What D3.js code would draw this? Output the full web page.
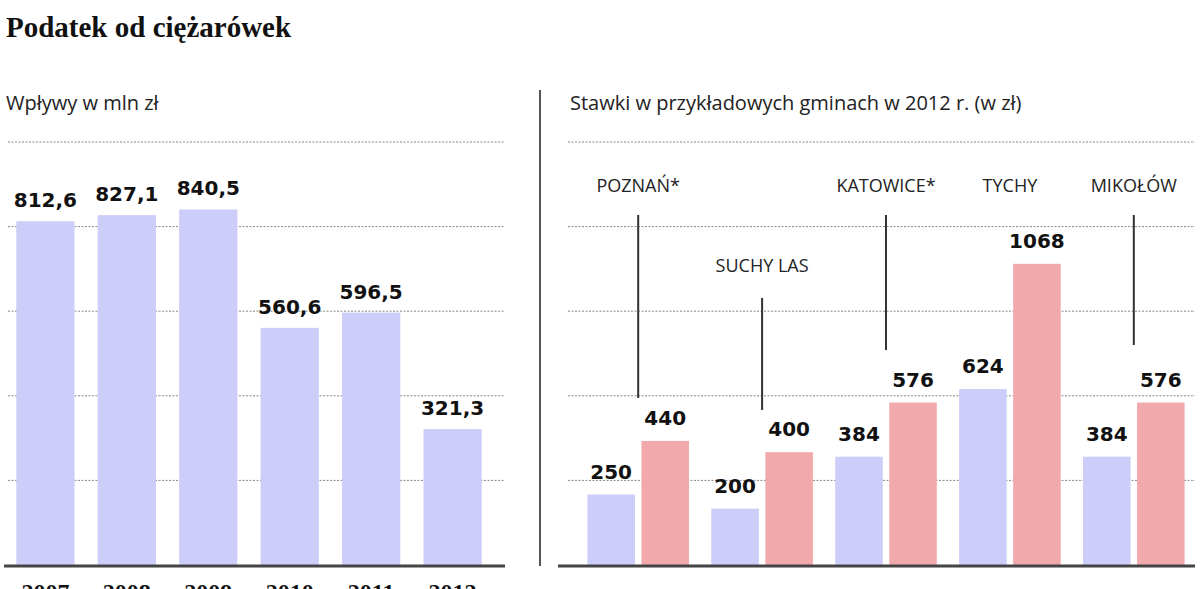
<!DOCTYPE html><html><head><meta charset="utf-8"><script src="https://cdn.jsdelivr.net/npm/d3@7"></script>
<style>body{margin:0;background:#fff}</style></head><body><svg id="c" width="1200" height="589"></svg>
<script>
const years=["2007","2008","2009","2010","2011","2012"];
const income=[812.6,827.1,840.5,560.6,596.5,321.3];
const cities=["POZNAŃ*","SUCHY LAS","KATOWICE*","TYCHY","MIKOŁÓW"];
const rateA=[250,200,384,624,384];
const rateB=[440,400,576,1068,576];
const leftTicks=[0,200,400,600,800,1000];
const rightTicks=[0,300,600,900,1200,1500];
const blue="#cccdf9",red="#f2a9ac";
const svg=d3.select("#c");
const fmt=v=>v.toFixed(1).replace(".",",");
svg.append("text").attr("x",6).attr("y",37).attr("font-family","Liberation Serif").attr("font-weight","bold").attr("font-size",29).attr("fill","#111").text("Podatek od ciężarówek");
svg.append("text").attr("x",6).attr("y",110).attr("font-family","Open Sans").attr("font-size",20).attr("fill","#222").text("Wpływy w mln zł");
svg.append("text").attr("x",570).attr("y",110).attr("font-family","Open Sans").attr("font-size",20).attr("fill","#222").text("Stawki w przykładowych gminach w 2012 r. (w zł)");
svg.append("line").attr("x1",540).attr("x2",540).attr("y1",90).attr("y2",566).attr("stroke","#555").attr("stroke-width",2);
// left
const yL=d3.scaleLinear().domain([0,1000]).range([565,142]);
const xL=d3.scaleBand().domain(years).range([0,498]).paddingInner(0.285).paddingOuter(0.2);
leftTicks.slice(1).forEach(t=>svg.append("line").attr("x1",8).attr("x2",505).attr("y1",yL(t)).attr("y2",yL(t)).attr("stroke","#888").attr("stroke-dasharray","2,1.5"));
svg.selectAll(".bl").data(income).enter().append("rect").attr("x",(d,i)=>xL(years[i])).attr("width",xL.bandwidth()).attr("y",d=>yL(d)).attr("height",d=>yL(0)-yL(d)).attr("fill",blue);
svg.selectAll(".tl").data(income).enter().append("text").attr("x",(d,i)=>xL(years[i])+xL.bandwidth()/2).attr("y",d=>yL(d)-14).attr("text-anchor","middle").attr("font-family","DejaVu Sans").attr("font-weight","bold").attr("font-size",20).attr("fill","#111").text(fmt);
svg.selectAll(".yl").data(years).enter().append("text").attr("x",d=>xL(d)+xL.bandwidth()/2).attr("y",600).attr("text-anchor","middle").attr("font-family","Liberation Serif").attr("font-weight","bold").attr("font-size",24).attr("fill","#111").text(d=>d);
svg.append("line").attr("x1",4).attr("x2",505).attr("y1",566).attr("y2",566).attr("stroke","#444").attr("stroke-width",3);
// right
const yR=d3.scaleLinear().domain([0,1500]).range([565,142]);
const x0=d3.scaleBand().domain(cities).range([575,1197]).paddingInner(0.18).paddingOuter(0.1);
const x1=d3.scaleBand().domain([0,1]).range([0,x0.bandwidth()]).paddingInner(0.12);
rightTicks.slice(1).forEach(t=>svg.append("line").attr("x1",568).attr("x2",1195).attr("y1",yR(t)).attr("y2",yR(t)).attr("stroke","#888").attr("stroke-dasharray","2,1.5"));
const lab=[{y:192,l1:215,l2:398,k:1},{y:272,l1:298,l2:410,k:1},{y:192,l1:215,l2:350,k:1},{y:192,k:0},{y:192,l1:215,l2:345,k:1}];
cities.forEach((c,i)=>{
  [[rateA[i],blue],[rateB[i],red]].forEach(([v,col],j)=>{
    const x=x0(c)+x1(j);
    svg.append("rect").attr("x",x).attr("width",x1.bandwidth()).attr("y",yR(v)).attr("height",yR(0)-yR(v)).attr("fill",col);
    svg.append("text").attr("x",x+x1.bandwidth()/2).attr("y",yR(v)-16).attr("text-anchor","middle").attr("font-family","DejaVu Sans").attr("font-weight","bold").attr("font-size",20).attr("fill","#111").text(v);
  });
  const cx=x0(c)+x0.bandwidth()/2;
  svg.append("text").attr("x",cx).attr("y",lab[i].y).attr("text-anchor","middle").attr("font-family","Open Sans").attr("font-size",18).attr("fill","#222").text(c);
  if(lab[i].k) svg.append("line").attr("x1",cx).attr("x2",cx).attr("y1",lab[i].l1).attr("y2",lab[i].l2).attr("stroke","#333").attr("stroke-width",2);
});
svg.append("line").attr("x1",558).attr("x2",1195).attr("y1",566).attr("y2",566).attr("stroke","#444").attr("stroke-width",3);
</script></body></html>
